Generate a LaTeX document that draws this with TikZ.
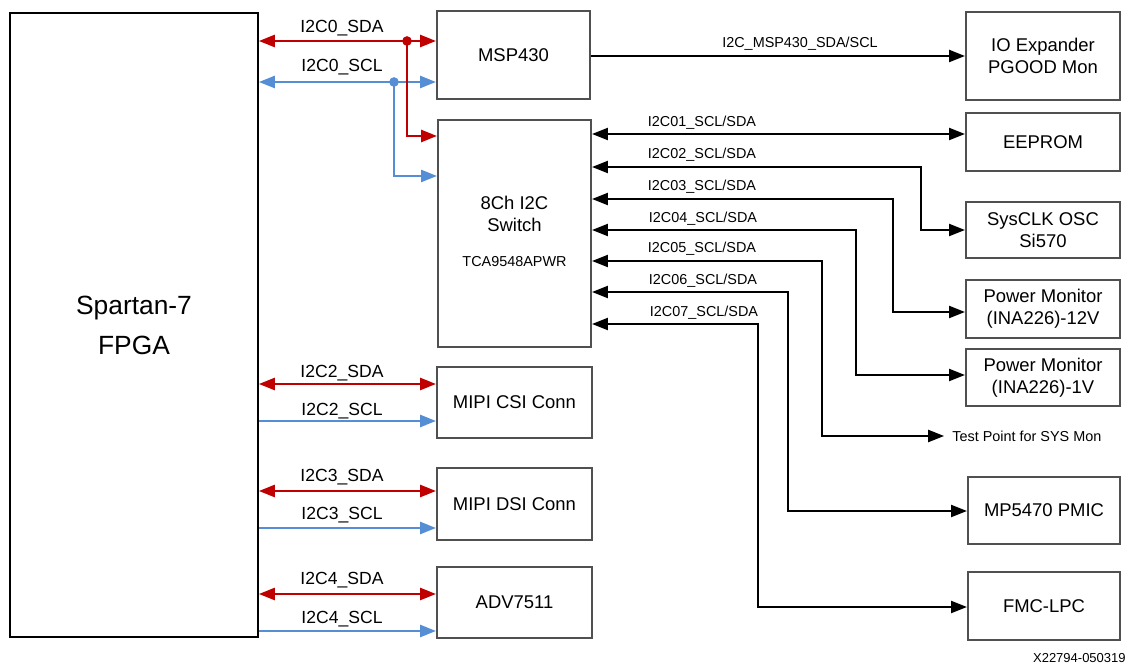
\documentclass[tikz,border=0pt]{standalone}
\usepackage{fontspec}
\setmainfont{Liberation Sans}
\usetikzlibrary{arrows.meta}
\definecolor{sdared}{RGB}{192,0,0}
\definecolor{sclblue}{RGB}{85,142,213}
\definecolor{boxgray}{RGB}{80,80,80}

\begin{document}
\begin{tikzpicture}[x=0.02cm, y=-0.02cm, >={Triangle[length=9pt, width=7pt]}]
  \tikzstyle{box}=[rectangle, draw=boxgray, line width=1.3pt, minimum width=3.06cm, inner sep=0pt, align=center, font=\fontsize{10.5}{12.5}\selectfont]
  \tikzstyle{fpgabox}=[rectangle, draw=black, line width=1.2pt, minimum width=4.96cm, minimum height=12.48cm, align=center, font=\fontsize{15}{22.7}\selectfont]
  \tikzstyle{sda}=[<->, draw=sdared, line width=0.9pt]
  \tikzstyle{scl}=[draw=sclblue, line width=0.8pt]
  \tikzstyle{bus}=[<->, draw=black, line width=0.7pt]
  \tikzstyle{lbl}=[font=\fontsize{10}{12}\selectfont, inner sep=0pt]
  \tikzstyle{sublbl}=[font=\fontsize{8.2}{10}\selectfont, inner sep=0pt]
  \tikzstyle{dot}=[circle, inner sep=0pt, minimum size=5.5pt]

  \useasboundingbox (0,0) rectangle (1133,668);

  % blocks
  \node[fpgabox] (fpga) at (134,325) {Spartan-7\\FPGA};
  \node[box, minimum height=1.76cm] (msp) at (513.5,55) {MSP430};
  \node[box, minimum height=4.54cm] (sw) at (514.5,233.5) {};
  \node[font=\fontsize{10.5}{12.5}\selectfont, align=center] (swname) at (514.5,214) {8Ch I2C\\Switch};
  \node[sublbl] (swpart) at (514.5,262) {TCA9548APWR};
  \node[box, minimum width=3.1cm, minimum height=1.42cm] (csi) at (514.5,402.5) {MIPI CSI Conn};
  \node[box, minimum width=3.1cm, minimum height=1.44cm] (dsi) at (514.5,504) {MIPI DSI Conn};
  \node[box, minimum width=3.1cm, minimum height=1.42cm] (adv) at (514.5,602.5) {ADV7511};

  \node[box, minimum width=3.08cm, minimum height=1.76cm] (ioexp) at (1043,56) {IO Expander\\PGOOD Mon};
  \node[box, minimum width=3.08cm, minimum height=1.16cm] (eeprom) at (1043,142) {EEPROM};
  \node[box, minimum width=3.08cm, minimum height=1.12cm] (sysclk) at (1043,230) {SysCLK OSC\\Si570};
  \node[box, minimum width=3.08cm, minimum height=1.16cm] (pm12) at (1043,309) {Power Monitor\\(INA226)-12V};
  \node[box, minimum width=3.08cm, minimum height=1.14cm] (pm1) at (1043,377.5) {Power Monitor\\(INA226)-1V};
  \node[box, minimum width=3.04cm, minimum height=1.34cm] (pmic) at (1044,510.5) {MP5470 PMIC};
  \node[box, minimum width=3.04cm, minimum height=1.36cm] (fmc) at (1044,606) {FMC-LPC};

  % I2C0 to MSP430 and switch
  \node[dot, fill=sdared] (sdajoin) at (407,41) {};
  \node[dot, fill=sclblue] (scljoin) at (394,82) {};
  \draw[sda] (fpga.east |- 0,41) -- (msp.west |- 0,41);
  \draw[scl, <->] (fpga.east |- 0,82) -- (msp.west |- 0,82);
  \draw[sdared, line width=0.9pt, ->] (sdajoin.center) |- (sw.west |- 0,136);
  \draw[scl, ->] (scljoin.center) |- (sw.west |- 0,176);
  \node[lbl] (l0sda) at (342,28) {I2C0\_SDA};
  \node[lbl] (l0scl) at (342,67) {I2C0\_SCL};

  % MSP430 to IO expander
  \draw[bus, -> ] (msp.east |- 0,56) -- (ioexp.west |- 0,56);
  \node[sublbl] (lmsp) at (800,44) {I2C\_MSP430\_SDA/SCL};

  % switch channels
  \coordinate (tp) at (944,436);
  \draw[bus] (sw.east |- 0,134) -- (eeprom.west |- 0,134);
  \draw[bus] (sw.east |- 0,167) -- (921,167) |- (sysclk.west |- 0,230);
  \draw[bus] (sw.east |- 0,199) -- (893,199) |- (pm12.west |- 0,312);
  \draw[bus] (sw.east |- 0,230) -- (856,230) |- (pm1.west |- 0,375);
  \draw[bus] (sw.east |- 0,261) -- (822,261) |- (tp);
  \draw[bus] (sw.east |- 0,292) -- (788,292) |- (pmic.west |- 0,511);
  \draw[bus] (sw.east |- 0,324) -- (758,324) |- (fmc.west |- 0,607);
  \node[sublbl] (l01) at (702,123) {I2C01\_SCL/SDA};
  \node[sublbl] (l02) at (702,155) {I2C02\_SCL/SDA};
  \node[sublbl] (l03) at (702,187) {I2C03\_SCL/SDA};
  \node[sublbl] (l04) at (703,219) {I2C04\_SCL/SDA};
  \node[sublbl] (l05) at (702,249) {I2C05\_SCL/SDA};
  \node[sublbl] (l06) at (703,281) {I2C06\_SCL/SDA};
  \node[sublbl] (l07) at (704,313) {I2C07\_SCL/SDA};
  \node[sublbl, anchor=west] (tptext) at (952,436) {Test Point for SYS Mon};

  % I2C2..I2C4
  \draw[sda] (fpga.east |- 0,384) -- (csi.west |- 0,384);
  \draw[scl, ->] (fpga.east |- 0,421) -- (csi.west |- 0,421);
  \draw[sda] (fpga.east |- 0,491) -- (dsi.west |- 0,491);
  \draw[scl, ->] (fpga.east |- 0,528) -- (dsi.west |- 0,528);
  \draw[sda] (fpga.east |- 0,594) -- (adv.west |- 0,594);
  \draw[scl, ->] (fpga.east |- 0,631) -- (adv.west |- 0,631);
  \node[lbl] (l2sda) at (342,373) {I2C2\_SDA};
  \node[lbl] (l2scl) at (342,411) {I2C2\_SCL};
  \node[lbl] (l3sda) at (342,477) {I2C3\_SDA};
  \node[lbl] (l3scl) at (342,515) {I2C3\_SCL};
  \node[lbl] (l4sda) at (342,580) {I2C4\_SDA};
  \node[lbl] (l4scl) at (342,619) {I2C4\_SCL};

  \node[font=\fontsize{7.4}{9}\selectfont, inner sep=0pt, anchor=east] (docid) at (1126,658) {X22794-050319};
\end{tikzpicture}
\end{document}
